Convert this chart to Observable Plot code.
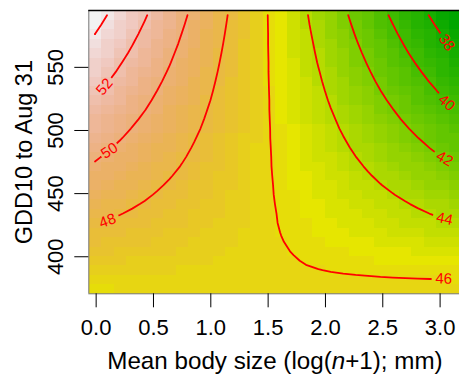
<!DOCTYPE html>
<html><head><meta charset="utf-8">
<script src="https://cdn.jsdelivr.net/npm/d3@7"></script>
<script src="https://cdn.jsdelivr.net/npm/@observablehq/plot@0.6"></script>
<style>
html,body{margin:0;padding:0;background:#fff;overflow:hidden;}
#chart svg image{image-rendering:pixelated;}
</style></head><body><div id="chart"></div>
<script>
// grid centres (x: mean body size, y: GDD10)
const xGrid = [-0.010,0.098,0.207,0.315,0.423,0.531,0.640,0.748,0.856,0.964,1.073,1.181,1.289,1.397,1.506,1.614,1.722,1.830,1.939,2.047,2.155,2.263,2.372,2.480,2.588,2.696,2.805,2.913,3.021,3.129];
const yGrid = [374.40,381.88,389.36,396.84,404.32,411.80,419.27,426.75,434.23,441.71,449.19,456.67,464.15,471.63,479.11,486.59,494.06,501.54,509.02,516.50,523.98,531.46,538.94,546.42,553.90,561.38,568.85,576.33,583.81,591.29];
// predicted values, one row per yGrid entry (bottom row first)
const zRows = [
[46.00,46.00,46.01,46.02,46.04,46.05,46.06,46.07,46.08,46.09,46.11,46.12,46.13,46.14,46.15,46.16,46.18,46.19,46.20,46.21,46.22,46.23,46.25,46.26,46.27,46.28,46.29,46.30,46.31,46.33],
[46.29,46.28,46.27,46.26,46.25,46.24,46.23,46.22,46.21,46.20,46.19,46.18,46.17,46.16,46.15,46.14,46.13,46.12,46.11,46.10,46.09,46.08,46.07,46.06,46.05,46.04,46.03,46.02,46.01,45.99],
[46.58,46.55,46.52,46.49,46.46,46.43,46.39,46.36,46.33,46.30,46.27,46.23,46.20,46.17,46.14,46.11,46.08,46.04,46.01,45.98,45.95,45.92,45.89,45.85,45.82,45.79,45.76,45.73,45.69,45.66],
[46.88,46.83,46.77,46.72,46.67,46.61,46.56,46.51,46.45,46.40,46.35,46.29,46.24,46.19,46.13,46.08,46.03,45.97,45.92,45.86,45.81,45.76,45.70,45.65,45.60,45.54,45.49,45.44,45.38,45.33],
[47.18,47.10,47.03,46.95,46.88,46.80,46.73,46.65,46.58,46.50,46.43,46.35,46.28,46.20,46.13,46.05,45.98,45.90,45.82,45.75,45.67,45.60,45.52,45.45,45.37,45.30,45.22,45.15,45.07,45.00],
[47.47,47.38,47.28,47.18,47.09,46.99,46.89,46.80,46.70,46.60,46.51,46.41,46.31,46.22,46.12,46.02,45.93,45.83,45.73,45.63,45.54,45.44,45.34,45.25,45.15,45.05,44.96,44.86,44.76,44.67],
[47.77,47.65,47.53,47.41,47.30,47.18,47.06,46.94,46.82,46.70,46.59,46.47,46.35,46.23,46.11,45.99,45.87,45.76,45.64,45.52,45.40,45.28,45.16,45.04,44.93,44.81,44.69,44.57,44.45,44.33],
[48.07,47.93,47.79,47.65,47.51,47.37,47.23,47.09,46.95,46.81,46.67,46.53,46.39,46.25,46.10,45.96,45.82,45.68,45.54,45.40,45.26,45.12,44.98,44.84,44.70,44.56,44.42,44.28,44.14,44.00],
[48.36,48.20,48.04,47.88,47.72,47.55,47.39,47.23,47.07,46.91,46.74,46.58,46.42,46.26,46.10,45.94,45.77,45.61,45.45,45.29,45.13,44.96,44.80,44.64,44.48,44.32,44.15,43.99,43.83,43.67],
[48.66,48.48,48.29,48.11,47.93,47.74,47.56,47.38,47.19,47.01,46.83,46.64,46.46,46.27,46.09,45.91,45.72,45.54,45.36,45.17,44.99,44.81,44.62,44.44,44.26,44.07,43.89,43.70,43.52,43.34],
[48.96,48.75,48.55,48.34,48.14,47.93,47.73,47.52,47.32,47.11,46.90,46.70,46.49,46.29,46.08,45.88,45.67,45.47,45.26,45.06,44.85,44.65,44.44,44.24,44.03,43.83,43.62,43.42,43.21,43.01],
[49.25,49.03,48.80,48.57,48.35,48.12,47.89,47.67,47.44,47.21,46.98,46.76,46.53,46.30,46.08,45.85,45.62,45.40,45.17,44.94,44.72,44.49,44.26,44.03,43.81,43.58,43.35,43.13,42.90,42.67],
[49.55,49.30,49.05,48.80,48.56,48.31,48.06,47.81,47.56,47.31,47.06,46.82,46.57,46.32,46.07,45.82,45.57,45.32,45.08,44.83,44.58,44.33,44.08,43.83,43.58,43.33,43.09,42.84,42.59,42.34],
[49.85,49.58,49.31,49.04,48.77,48.50,48.23,47.96,47.68,47.41,47.14,46.87,46.60,46.33,46.06,45.79,45.52,45.25,44.98,44.71,44.44,44.17,43.90,43.63,43.36,43.09,42.82,42.55,42.28,42.01],
[50.14,49.85,49.56,49.27,48.98,48.68,48.39,48.10,47.81,47.52,47.22,46.93,46.64,46.35,46.06,45.76,45.47,45.18,44.89,44.60,44.30,44.01,43.72,43.43,43.14,42.84,42.55,42.26,41.97,41.68],
[50.44,50.13,49.81,49.50,49.19,48.87,48.56,48.24,47.93,47.62,47.30,46.99,46.68,46.36,46.05,45.74,45.42,45.11,44.79,44.48,44.17,43.85,43.54,43.23,42.91,42.60,42.29,41.97,41.66,41.34],
[50.74,50.40,50.07,49.73,49.40,49.06,48.73,48.39,48.05,47.72,47.38,47.05,46.71,46.38,46.04,45.71,45.37,45.04,44.70,44.37,44.03,43.70,43.36,43.02,42.69,42.35,42.02,41.68,41.35,41.01],
[51.03,50.68,50.32,49.96,49.61,49.25,48.89,48.53,48.18,47.82,47.46,47.11,46.75,46.39,46.04,45.68,45.32,44.96,44.61,44.25,43.89,43.54,43.18,42.82,42.47,42.11,41.75,41.39,41.04,40.68],
[51.33,50.95,50.57,50.19,49.82,49.44,49.06,48.68,48.30,47.92,47.54,47.16,46.79,46.41,46.03,45.65,45.27,44.89,44.51,44.14,43.76,43.38,43.00,42.62,42.24,41.86,41.48,41.11,40.73,40.35],
[51.63,51.23,50.83,50.43,50.03,49.63,49.23,48.82,48.42,48.02,47.62,47.22,46.82,46.42,46.02,45.62,45.22,44.82,44.42,44.02,43.62,43.22,42.82,42.42,42.02,41.62,41.22,40.82,40.42,40.02],
[51.92,51.50,51.08,50.66,50.24,49.81,49.39,48.97,48.55,48.13,47.70,47.28,46.86,46.44,46.02,45.59,45.17,44.75,44.33,43.90,43.48,43.06,42.64,42.22,41.79,41.37,40.95,40.53,40.11,39.68],
[52.22,51.78,51.33,50.89,50.45,50.00,49.56,49.11,48.67,48.23,47.78,47.34,46.90,46.45,46.01,45.56,45.12,44.68,44.23,43.79,43.35,42.90,42.46,42.01,41.57,41.13,40.68,40.24,39.80,39.35],
[52.52,52.05,51.59,51.12,50.66,50.19,49.72,49.26,48.79,48.33,47.86,47.40,46.93,46.47,46.00,45.54,45.07,44.60,44.14,43.67,43.21,42.74,42.28,41.81,41.35,40.88,40.42,39.95,39.48,39.02],
[52.81,52.33,51.84,51.35,50.87,50.38,49.89,49.40,48.92,48.43,47.94,47.46,46.97,46.48,45.99,45.51,45.02,44.53,44.05,43.56,43.07,42.58,42.10,41.61,41.12,40.64,40.15,39.66,39.18,38.69],
[53.11,52.60,52.09,51.58,51.07,50.57,50.06,49.55,49.04,48.53,48.02,47.51,47.00,46.50,45.99,45.48,44.97,44.46,43.95,43.44,42.93,42.42,41.92,41.41,40.90,40.39,39.88,39.37,38.86,38.35],
[53.41,52.88,52.35,51.82,51.29,50.75,50.22,49.69,49.16,48.63,48.10,47.57,47.04,46.51,45.98,45.45,44.92,44.39,43.86,43.33,42.80,42.27,41.74,41.21,40.68,40.14,39.61,39.08,38.55,38.02],
[53.70,53.15,52.60,52.05,51.50,50.94,50.39,49.84,49.29,48.73,48.18,47.63,47.08,46.53,45.97,45.42,44.87,44.32,43.77,43.21,42.66,42.11,41.56,41.00,40.45,39.90,39.35,38.80,38.24,37.69],
[54.00,53.43,52.85,52.28,51.71,51.13,50.56,49.98,49.41,48.84,48.26,47.69,47.12,46.54,45.97,45.39,44.82,44.25,43.67,43.10,42.52,41.95,41.38,40.80,40.23,39.66,39.08,38.51,37.93,37.36],
[54.30,53.70,53.11,52.51,51.92,51.32,50.72,50.13,49.53,48.94,48.34,47.75,47.15,46.56,45.96,45.37,44.77,44.17,43.58,42.98,42.39,41.79,41.20,40.60,40.01,39.41,38.81,38.22,37.62,37.03],
[54.60,53.98,53.36,52.74,52.13,51.51,50.89,50.28,49.66,49.04,48.42,47.81,47.19,46.57,45.95,45.34,44.72,44.10,43.49,42.87,42.25,41.63,41.02,40.40,39.78,39.16,38.55,37.93,37.31,36.70]
];
const contourLevels = [38,40,42,44,46,48,50,52,54];
const labelLevels = [52,50,48,38,40,42,44,46];
const labelX      = [0.073,0.116,0.099,3.057,3.057,3.039,3.039,3.031];
const labelY      = [534.7,484.0,428.5,569.6,522.0,477.7,430.1,382.6];
const labelAngle  = [-50,-33,-20,55,40,30,12,2];
const xTicks = [0,0.5,1,1.5,2,2.5,3];
const yTicks = [400,450,500,550];
const xTitleParts = ["Mean body size (log(","n","+1); mm)"];
const xTitle = xTitleParts.join("");
const yTitle = "GDD10 to Aug 31";

// geometry of the grid
const nx = xGrid.length, ny = yGrid.length;
const hx = (xGrid[nx-1]-xGrid[0])/(nx-1)/2, hy = (yGrid[ny-1]-yGrid[0])/(ny-1)/2;
const X1 = xGrid[0]-hx, X2 = xGrid[nx-1]+hx, YB = yGrid[0]-hy, YT = yGrid[ny-1]+hy;
const values = zRows.slice().reverse().flat(); // top row first
const zmin = d3.min(values), zmax = d3.max(values);

// R terrain.colors(50)
function hsv(h,s,v){
  const i = Math.floor(h*6), f = h*6-i;
  const p=v*(1-s), q=v*(1-f*s), t=v*(1-(1-f)*s);
  let r,g,b;
  switch(((i%6)+6)%6){case 0:r=v;g=t;b=p;break;case 1:r=q;g=v;b=p;break;case 2:r=p;g=v;b=t;break;case 3:r=p;g=q;b=v;break;case 4:r=t;g=p;b=v;break;default:r=v;g=p;b=q;}
  return d3.rgb(Math.round(r*255),Math.round(g*255),Math.round(b*255)).formatHex();
}
function terrain(k,n){
  const k0 = Math.floor(n/2);
  if (k < k0){ const t = k/(k0-1); return hsv(4/12-2/12*t,1,0.65+0.25*t); }
  const t = (k-k0+1)/(n-k0);
  return hsv(2/12-2/12*t,1-t,0.9+0.05*t);
}
const nCol = 50;
const palette = d3.range(nCol).map(k=>terrain(k,nCol));
const breaks = d3.range(1,nCol).map(k=>zmin+k*(zmax-zmin)/nCol);

// contour lines (R style: only inside the range of grid centres)
const contourPts = [];
{
  let id = 0;
  const eps = 1e-6;
  d3.contours().size([nx, ny]).thresholds(contourLevels)(values).forEach(c => {
    c.coordinates.forEach(poly => poly.forEach(ring => {
      let run = [];
      const flush = () => {
        if (run.length > 1) { run.forEach(p => contourPts.push({x: p[0], y: p[1], id, level: c.value})); id++; }
        run = [];
      };
      ring.forEach(([u, v]) => {
        const inside = u >= 0.5-eps && u <= nx-0.5+eps && v >= 0.5-eps && v <= ny-0.5+eps;
        if (inside) run.push([X1 + u*(X2-X1)/nx, YT - v*(YT-YB)/ny]);
        else flush();
      });
      flush();
    }));
  });
}

const labels = labelLevels.map((level,i)=>({level, x:labelX[i], y:labelY[i], angle:labelAngle[i]}));
// extent of the break in each contour line around its label (along the text direction, px)
const gapLo = [-17,-10,-15,-11,-12,-12,-12,-12];
const gapHi = [11,10,12,18,18,18,18,16];

const W = 461, H = 375, mL = 88.3, mR = 0.4, mT = 10, mB = H-293.3;
const FONT = "'Liberation Sans', Arial, Helvetica, sans-serif";

const plot = Plot.plot({
  width: W, height: H, marginLeft: mL, marginRight: mR, marginTop: mT, marginBottom: mB,
  x: {domain: [X1, X2], axis: null},
  y: {domain: [YB, YT], axis: null},
  color: {type: "threshold", domain: breaks, range: palette},
  style: {fontFamily: FONT, fontSize: "22px", color: "black", background: "white", maxWidth: "none", overflow: "visible"},
  marks: [
    Plot.raster(values, {width: nx, height: ny, x1: X1, x2: X2, y1: YT, y2: YB, fill: d => d, imageRendering: "pixelated"}),
    Plot.line(contourPts, {x: "x", y: "y", z: "id", stroke: "#ff0000", strokeWidth: 1.8, strokeLinejoin: "round"}),
    Plot.text(labels, {x: "x", y: "y", text: d => String(d.level), rotate: "angle", fill: "#ff0000", fontSize: 15, textAnchor: "middle", lineAnchor: "middle"}),
    Plot.ruleY([YB], {stroke: "#777", strokeWidth: 1}),
    Plot.ruleX([X1], {stroke: "#777", strokeWidth: 1}),
    Plot.ruleY([YT], {stroke: "black", strokeWidth: 1.5}),
    Plot.axisX({ticks: xTicks, tickSize: 14, tickPadding: 11.5, tickFormat: d => d.toFixed(1), fontSize: 22, label: null}),
    Plot.axisY({ticks: yTicks, tickSize: 14, tickFormat: () => "", label: null}),
    Plot.text(yTicks, {y: d => d, text: d => String(d), frameAnchor: "left", dx: -32.7, rotate: -90, textAnchor: "middle", lineAnchor: "middle", fontSize: 22}),
    Plot.text([xTitle], {frameAnchor: "bottom", dy: 75, lineAnchor: "bottom", fontSize: 24.2}),
    Plot.text([yTitle], {frameAnchor: "left", dx: -56.8, rotate: -90, lineAnchor: "bottom", textAnchor: "middle", fontSize: 23.5})
  ]
});
document.getElementById("chart").appendChild(plot);

// post-processing: italic n in the x title, and gaps in contour lines at labels
const svg = d3.select(plot);
svg.selectAll("text").filter(function(){ return this.textContent === xTitle; }).each(function(){
  const t = d3.select(this); t.text(null);
  t.append("tspan").text(xTitleParts[0]);
  t.append("tspan").attr("font-style","italic").text(xTitleParts[1]);
  t.append("tspan").text(xTitleParts[2]);
});
const sx = plot.scale("x"), sy = plot.scale("y");
const defs = svg.insert("defs", ":first-child");
const mask = defs.append("mask").attr("id","contourGaps").attr("maskUnits","userSpaceOnUse")
  .attr("x",0).attr("y",0).attr("width",W).attr("height",H);
mask.append("rect").attr("x",0).attr("y",0).attr("width",W).attr("height",H).attr("fill","white");
labels.forEach((d,i) => {
  mask.append("rect").attr("x",gapLo[i]).attr("y",-7).attr("width",gapHi[i]-gapLo[i]).attr("height",14).attr("fill","black")
    .attr("transform", `translate(${sx.apply(d.x)},${sy.apply(d.y)}) rotate(${d.angle})`);
});
svg.selectAll('g[aria-label="line"]').attr("mask","url(#contourGaps)");
</script></body></html>
